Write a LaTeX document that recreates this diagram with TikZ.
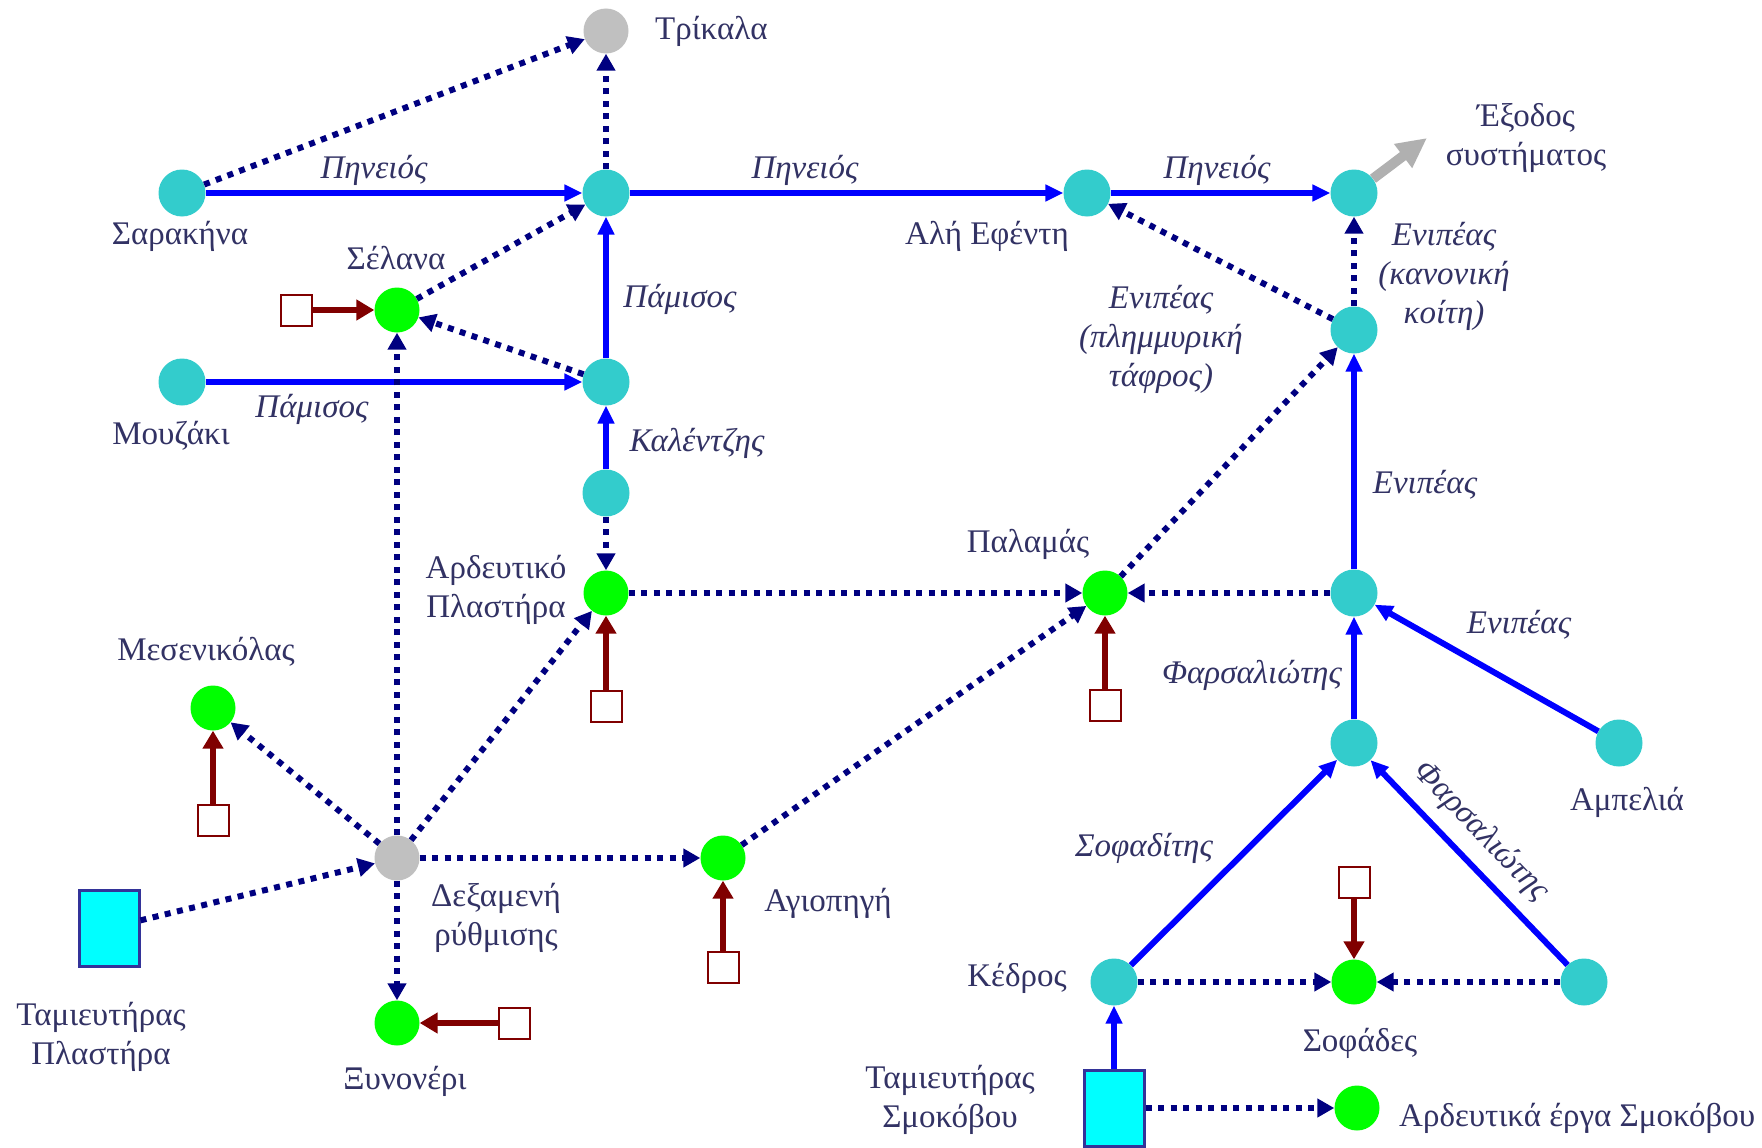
\documentclass[tikz,border=0pt]{standalone}
\usepackage{fontspec}
\setmainfont{Liberation Serif}
\usetikzlibrary{arrows.meta}
\definecolor{tealc}{RGB}{51,204,204}
\definecolor{greenc}{RGB}{0,255,0}
\definecolor{grayc}{RGB}{192,192,192}
\definecolor{navyc}{RGB}{0,0,128}
\definecolor{redc}{RGB}{128,0,0}
\definecolor{rectb}{RGB}{51,51,153}
\definecolor{rectf}{RGB}{0,255,255}
\definecolor{txtc}{RGB}{50,50,100}
\definecolor{exitc}{RGB}{176,176,176}
\begin{document}
\begin{tikzpicture}[x=1pt,y=-1pt,
  cyn/.style={circle, fill=tealc, minimum size=47pt, inner sep=0pt},
  grn/.style={circle, fill=greenc, minimum size=45pt, inner sep=0pt},
  gry/.style={circle, fill=grayc, minimum size=45pt, inner sep=0pt},
  resv/.style={rectangle, draw=rectb, line width=3pt, fill=rectf, minimum width=60pt, minimum height=76pt, inner sep=0pt},
  sqbox/.style={rectangle, draw=redc, line width=2pt, fill=white, minimum size=31pt, inner sep=0pt},
  riv/.style={draw=blue, line width=6pt, -{Triangle[length=18pt,width=16pt]}},
  dotarr/.style={draw=navyc, line width=6pt, dash pattern=on 6pt off 6.5pt, -{Triangle[length=17pt,width=18pt]}},
  dem/.style={draw=redc, line width=6pt, -{Triangle[length=18pt,width=20pt]}},
  lbl/.style={text=txtc, font=\fontsize{33}{39}\selectfont, inner sep=0pt, align=center},
  ilbl/.style={text=txtc, font=\fontsize{33}{39}\selectfont\itshape, inner sep=0pt, align=center}
]
\useasboundingbox[fill=white] (0,0) rectangle (1762,1148);

% nodes
\node[gry] (trik) at (606,31) {};
\node[cyn] (sar) at (182,193) {};
\node[cyn] (j1) at (606,193) {};
\node[cyn] (ali) at (1087,193) {};
\node[cyn] (exit) at (1354,193) {};
\node[grn] (sel) at (397,310) {};
\node[cyn] (mou) at (182,382) {};
\node[cyn] (j2) at (606,382) {};
\node[cyn] (j3) at (606,493) {};
\node[grn] (ard) at (606,593) {};
\node[grn] (pal) at (1105,593) {};
\node[cyn] (e1) at (1354,593) {};
\node[cyn] (e2) at (1354,330) {};
\node[grn] (mes) at (213,708) {};
\node[gry] (dex) at (397,858) {};
\node[grn] (agi) at (723,858) {};
\node[resv] (tplast) at (109,928) {};
\node[grn] (xyn) at (397,1023) {};
\node[cyn] (f1) at (1354,743) {};
\node[cyn] (amp) at (1619,743) {};
\node[cyn] (ked) at (1114,982) {};
\node[grn] (sof) at (1354,982) {};
\node[cyn] (f2) at (1584,982) {};
\node[resv] (tsmok) at (1114,1108) {};
\node[grn] (asm) at (1357,1108) {};
\coordinate (exout) at (1427,138);

% demand squares
\node[sqbox] (s1) at (296,310) {};
\node[sqbox] (s2) at (606,706) {};
\node[sqbox] (s3) at (1105,705) {};
\node[sqbox] (s4) at (213,820) {};
\node[sqbox] (s5) at (723,967) {};
\node[sqbox] (s6) at (514,1023) {};
\node[sqbox] (s7) at (1354,882) {};

% rivers
\draw[riv] (sar) -- (j1);
\draw[riv] (j1) -- (ali);
\draw[riv] (ali) -- (exit);
\draw[riv] (mou) -- (j2);
\draw[riv] (j2) -- (j1);
\draw[riv] (j3) -- (j2);
\draw[riv] (e1) -- (e2);
\draw[riv] (f1) -- (e1);
\draw[riv] (amp) -- (e1);
\draw[riv] (ked) -- (f1);
\draw[riv] (f2) -- (f1);
\draw[riv] (tsmok) -- (ked);

% exit arrow
\draw[draw=exitc, line width=10pt, -{Triangle[length=30pt,width=28pt]}] (exit) -- (exout);

% diversions
\draw[dotarr] (sar) -- (trik);
\draw[dotarr] (j1) -- (trik);
\draw[dotarr] (sel) -- (j1);
\draw[dotarr] (j2) -- (sel);
\draw[dotarr] (dex) -- (sel);
\draw[dotarr] (j3) -- (ard);
\draw[dotarr] (ard) -- (pal);
\draw[dotarr] (e1) -- (pal);
\draw[dotarr] (pal) -- (e2);
\draw[dotarr] (e2) -- (ali);
\draw[dotarr] (e2) -- (exit);
\draw[dotarr] (dex) -- (mes);
\draw[dotarr] (dex) -- (ard);
\draw[dotarr] (dex) -- (agi);
\draw[dotarr] (dex) -- (xyn);
\draw[dotarr] (tplast) -- (dex);
\draw[dotarr] (agi) -- (pal);
\draw[dotarr] (ked) -- (sof);
\draw[dotarr] (f2) -- (sof);
\draw[dotarr] (tsmok) -- (asm);

% demands
\draw[dem] (s1) -- (sel);
\draw[dem] (s2) -- (ard);
\draw[dem] (s3) -- (pal);
\draw[dem] (s4) -- (mes);
\draw[dem] (s5) -- (agi);
\draw[dem] (s6) -- (xyn);
\draw[dem] (s7) -- (sof);

% labels
\node[lbl, anchor=west] (ltrik) at (655,31) {Τρίκαλα};
\node[lbl] (lsar) at (180,236) {Σαρακήνα};
\node[ilbl] (lp1) at (374,170) {Πηνειός};
\node[ilbl] (lp2) at (805,170) {Πηνειός};
\node[ilbl] (lp3) at (1217,170) {Πηνειός};
\node[lbl] (lali) at (987,236) {Αλή Εφέντη};
\node[lbl] (lexit) at (1526,138) {Έξοδος\\συστήματος};
\node[ilbl] (lek) at (1444,276) {Ενιπέας\\(κανονική\\κοίτη)};
\node[ilbl] (lep) at (1161,339) {Ενιπέας\\(πλημμυρική\\τάφρος)};
\node[lbl] (lsel) at (396,258) {Σέλανα};
\node[ilbl] (lpam1) at (680,299) {Πάμισος};
\node[ilbl] (lpam2) at (312,409) {Πάμισος};
\node[lbl] (lmou) at (171,436) {Μουζάκι};
\node[ilbl] (lkal) at (697,443) {Καλέντζης};
\node[lbl] (lard) at (496,590) {Αρδευτικό\\Πλαστήρα};
\node[lbl] (lpal) at (1028,544) {Παλαμάς};
\node[ilbl] (len1) at (1425,485) {Ενιπέας};
\node[ilbl] (len2) at (1519,625) {Ενιπέας};
\node[ilbl] (lfar1) at (1252,675) {Φαρσαλιώτης};
\node[lbl] (lmes) at (206,652) {Μεσενικόλας};
\node[lbl] (lamp) at (1627,802) {Αμπελιά};
\node[ilbl, rotate=-46] (lfar2) at (1481,832) {Φαρσαλιώτης};
\node[ilbl] (lsofd) at (1144,848) {Σοφαδίτης};
\node[lbl] (ldex) at (496,918) {Δεξαμενή\\ρύθμισης};
\node[lbl] (lagi) at (828,903) {Αγιοπηγή};
\node[lbl] (ltpl) at (101,1037) {Ταμιευτήρας\\Πλαστήρα};
\node[lbl] (lxyn) at (405,1081) {Ξυνονέρι};
\node[lbl] (lked) at (1017,978) {Κέδρος};
\node[lbl] (lsof) at (1360,1043) {Σοφάδες};
\node[lbl] (ltsm) at (950,1100) {Ταμιευτήρας\\Σμοκόβου};
\node[lbl, anchor=west] (lasm) at (1399,1118) {Αρδευτικά έργα Σμοκόβου};
\end{tikzpicture}
\end{document}
